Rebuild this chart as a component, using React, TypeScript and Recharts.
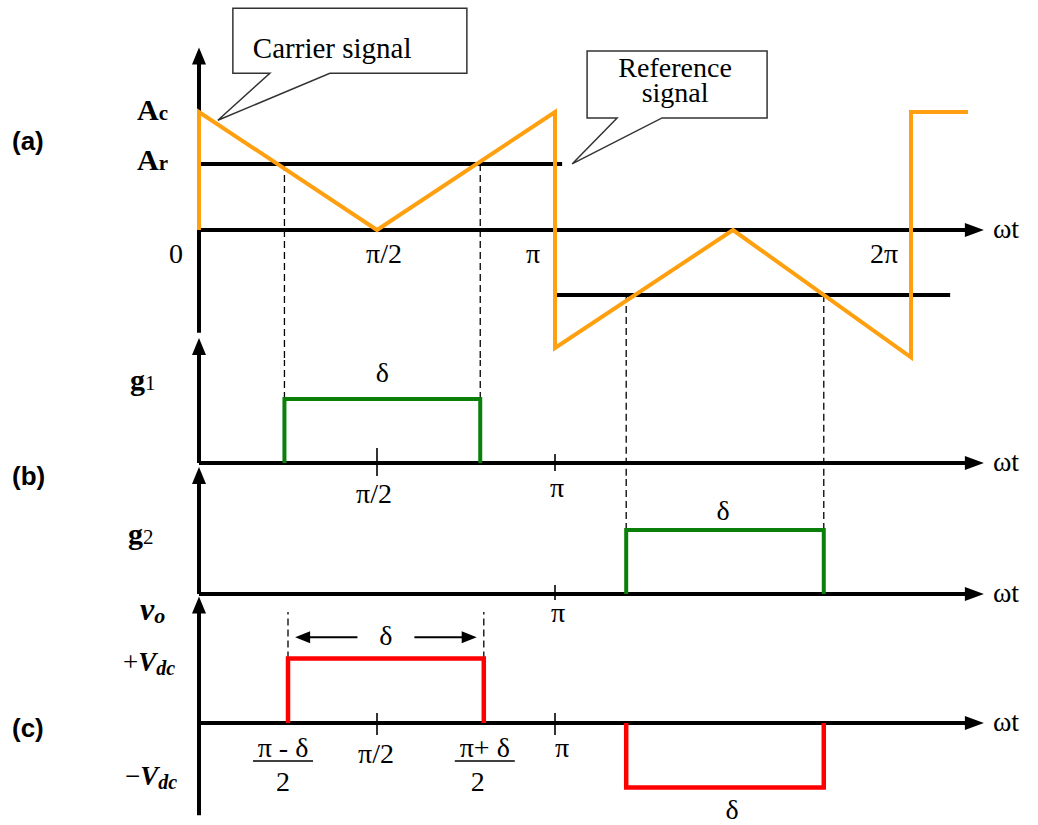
import React from "react";
import { LineChart, Line, XAxis, YAxis, ReferenceLine, ReferenceDot } from "recharts";

const W = 1038;
const H = 825;
const SERIF = "'Liberation Serif', 'Times New Roman', serif";
const SANS = "'Liberation Sans', Arial, sans-serif";

// x values are ωt in units of π
const carrierT = [0, 0, 0.5, 1, 1, 1.5, 2, 2, 2.16];
const carrierV = [0, 1, 0, 1, -1, 0, -1.08, 1, 1];
const refPosT = [0, 1.02];
const refPosV = [0.56, 0.56];
const refNegT = [1.0, 2.11];
const refNegV = [-0.55, -0.55];

const g1T = [0.24, 0.24, 0.79, 0.79];
const g1V = [0, 1, 1, 0];
const g2T = [1.2, 1.2, 1.755, 1.755];
const g2V = [0, 1, 1, 0];

const voPosT = [0.25, 0.25, 0.8, 0.8];
const voPosV = [0, 1, 1, 0];
const voNegT = [1.2, 1.2, 1.755, 1.755];
const voNegV = [0, -1, -1, 0];

const ticksA = [0, 0.5, 1, 2];
const tickLabelsA = ["0", "π/2", "π", "2π"];

const zip = (t: number[], v: number[]) => t.map((x, i) => ({ t: x, v: v[i] }));

// layout of each strip: pixel row of zero, pixels per unit, y-domain
const PANEL_A = { base: 230, unit: 118, lo: -1.1, hi: 1.55 };
const PANEL_G1 = { base: 463, unit: 64, lo: -0.2, hi: 1.61 };
const PANEL_G2 = { base: 594, unit: 64, lo: -0.3, hi: 1.85 };
const PANEL_C = { base: 723, unit: 64.5, lo: -1.5, hi: 1.72 };
const X_MAX = 2.25;
const AXIS_END = 2.157;

type PanelProps = { base: number; unit: number; lo: number; hi: number; children?: React.ReactNode };

function Panel({ base, unit, lo, hi, children }: PanelProps) {
  const top = base - hi * unit;
  const bottom = H - (base - lo * unit);
  return (
    <div style={{ position: "absolute", left: 0, top: 0 }}>
      <LineChart width={W} height={H} margin={{ top, bottom, left: 199, right: 38 }}>
        <XAxis type="number" dataKey="t" domain={[0, X_MAX]} hide />
        <YAxis type="number" domain={[lo, hi]} hide />
        {children}
      </LineChart>
    </div>
  );
}

type TxtOpts = {
  dx?: number;
  dy?: number;
  anchor?: "start" | "middle" | "end";
  size?: number;
  weight?: string | number;
  italic?: boolean;
  family?: string;
};

function txt(key: string, x: number, y: number, content: React.ReactNode, o: TxtOpts = {}) {
  const shape = (p: any) => (
    <text
      x={p.cx + (o.dx ?? 0)}
      y={p.cy + (o.dy ?? 0)}
      textAnchor={o.anchor ?? "middle"}
      fontSize={o.size ?? 28}
      fontFamily={o.family ?? SERIF}
      fontWeight={o.weight ?? "normal"}
      fontStyle={o.italic ? "italic" : "normal"}
      fill="#000"
    >
      {content}
    </text>
  );
  return <ReferenceDot key={key} x={x} y={y} r={1} ifOverflow="visible" shape={shape} />;
}

const arrowRight = (p: any) => (
  <polygon points={`${p.cx - 2},${p.cy - 7} ${p.cx + 17},${p.cy} ${p.cx - 2},${p.cy + 7}`} fill="#000" />
);
const arrowUp = (p: any) => (
  <polygon points={`${p.cx - 7},${p.cy + 2} ${p.cx},${p.cy - 15} ${p.cx + 7},${p.cy + 2}`} fill="#000" />
);
const smallLeft = (p: any) => (
  <polygon points={`${p.cx},${p.cy} ${p.cx + 15},${p.cy - 6} ${p.cx + 15},${p.cy + 6}`} fill="#000" />
);
const smallRight = (p: any) => (
  <polygon points={`${p.cx},${p.cy} ${p.cx - 15},${p.cy - 6} ${p.cx - 15},${p.cy + 6}`} fill="#000" />
);

function axes(prefix: string, yLo: number, yHi: number) {
  return [
    <ReferenceLine
      key={prefix + "h"}
      segment={[{ x: 0, y: 0 }, { x: AXIS_END, y: 0 }]}
      stroke="#000"
      strokeWidth={4}
      ifOverflow="visible"
    />,
    <ReferenceDot key={prefix + "ha"} x={AXIS_END} y={0} r={1} ifOverflow="visible" shape={arrowRight} />,
    <ReferenceLine
      key={prefix + "v"}
      segment={[{ x: 0, y: yLo }, { x: 0, y: yHi }]}
      stroke="#000"
      strokeWidth={4}
      ifOverflow="visible"
    />,
    <ReferenceDot key={prefix + "va"} x={0} y={yHi} r={1} ifOverflow="visible" shape={arrowUp} />,
    txt(prefix + "wt", AXIS_END, 0, "ωt", { dx: 26, dy: 8, anchor: "start" }),
  ];
}

function guide(key: string, x: number, y1: number, y2: number) {
  return (
    <ReferenceLine
      key={key}
      segment={[{ x, y: y1 }, { x, y: y2 }]}
      stroke="#000"
      strokeWidth={1.3}
      strokeDasharray="7 4"
      ifOverflow="visible"
    />
  );
}

function tick(key: string, x: number, up: number, down: number) {
  const shape = (p: any) => (
    <line x1={p.cx} x2={p.cx} y1={p.cy - up} y2={p.cy + down} stroke="#000" strokeWidth={1.6} />
  );
  return <ReferenceDot key={key} x={x} y={0} r={1} ifOverflow="visible" shape={shape} />;
}

function frac(key: string, x: number, num: string, dxNum: number, dxDen: number) {
  const shape = (p: any) => (
    <g fontFamily={SERIF} fontSize={28} fill="#000" textAnchor="middle">
      <text x={p.cx + dxNum} y={p.cy + 34}>{num}</text>
      <line x1={p.cx + dxNum - 30} x2={p.cx + dxNum + 30} y1={p.cy + 38} y2={p.cy + 38} stroke="#000" strokeWidth={1.6} />
      <text x={p.cx + dxDen} y={p.cy + 68}>2</text>
    </g>
  );
  return <ReferenceDot key={key} x={x} y={0} r={1} ifOverflow="visible" shape={shape} />;
}

const carrierCallout = (p: any) => (
  <g>
    <path
      d={`M${p.cx + 15},${p.cy - 112} H${p.cx + 249} V${p.cy - 47} H${p.cx + 112} L${p.cx},${p.cy} L${p.cx + 52},${p.cy - 47} H${p.cx + 15} Z`}
      fill="#fff"
      stroke="#333"
      strokeWidth={1.5}
    />
    <text x={p.cx + 35} y={p.cy - 62} fontFamily={SERIF} fontSize={29} fill="#000">
      Carrier signal
    </text>
  </g>
);

const referenceCallout = (p: any) => (
  <g>
    <path
      d={`M${p.cx + 15},${p.cy - 113} H${p.cx + 195} V${p.cy - 46} H${p.cx + 90} L${p.cx},${p.cy} L${p.cx + 45},${p.cy - 46} H${p.cx + 15} Z`}
      fill="#fff"
      stroke="#333"
      strokeWidth={1.5}
    />
    <text x={p.cx + 103} y={p.cy - 87} fontFamily={SERIF} fontSize={28} fill="#000" textAnchor="middle">
      Reference
    </text>
    <text x={p.cx + 103} y={p.cy - 62} fontFamily={SERIF} fontSize={28} fill="#000" textAnchor="middle">
      signal
    </text>
  </g>
);

const ORANGE = "#FFA010";
const GREEN = "#0A800A";
const RED = "#FF0000";

const g1Edges = [g1T[0], g1T[2]];
const g2Edges = [g2T[0], g2T[2]];
const voEdges = [voPosT[0], voPosT[2]];
const deltaLevel = 1.33;
const voMid = (voPosT[0] + voPosT[2]) / 2;

export default function App() {
  const tickDx = [-23, 7, -22, -27];
  return (
    <div style={{ position: "absolute", left: 0, top: 0, width: W, height: H, background: "#fff", overflow: "hidden" }}>
      {/* (a) carrier vs reference */}
      <Panel {...PANEL_A}>
        {g1Edges.map((t, i) => guide("ga" + i, t, refPosV[0], PANEL_A.lo))}
        {g2Edges.map((t, i) => guide("gb" + i, t, refNegV[0], PANEL_A.lo))}
        {axes("a", -0.87, 1.42)}
        <Line data={zip(refPosT, refPosV)} dataKey="v" stroke="#000" strokeWidth={4} dot={false} isAnimationActive={false} type="linear" />
        <Line data={zip(refNegT, refNegV)} dataKey="v" stroke="#000" strokeWidth={4} dot={false} isAnimationActive={false} type="linear" />
        <Line data={zip(carrierT, carrierV)} dataKey="v" stroke={ORANGE} strokeWidth={4} dot={false} isAnimationActive={false} type="linear" />
        {ticksA.map((t, i) => txt("ta" + i, t, 0, tickLabelsA[i], { dx: tickDx[i], dy: 33 }))}
        {txt("lblA", 0, 0, "(a)", { dx: -187, dy: -80, anchor: "start", family: SANS, weight: "bold", size: 26 })}
        {txt("Ac", 0, 1, <><tspan>A</tspan><tspan fontSize={21}>c</tspan></>, { dx: -62, dy: 8, anchor: "start", weight: "bold", size: 30 })}
        {txt("Ar", 0, refPosV[0], <><tspan>A</tspan><tspan fontSize={21}>r</tspan></>, { dx: -62, dy: 6, anchor: "start", weight: "bold", size: 30 })}
        <ReferenceDot x={0.053} y={0.93} r={1} ifOverflow="visible" shape={carrierCallout} />
        <ReferenceDot x={1.048} y={0.56} r={1} ifOverflow="visible" shape={referenceCallout} />
      </Panel>

      {/* (b) gate signal g1 */}
      <Panel {...PANEL_G1}>
        {g1Edges.map((t, i) => guide("g1a" + i, t, 1, PANEL_G1.hi))}
        {g2Edges.map((t, i) => guide("g1b" + i, t, PANEL_G1.lo, PANEL_G1.hi))}
        {axes("b1", 0, 1.72)}
        {tick("b1t0", 0.5, 15, 13)}
        {tick("b1t1", 1, 9, 8)}
        <Line data={zip(g1T, g1V)} dataKey="v" stroke={GREEN} strokeWidth={4} dot={false} isAnimationActive={false} type="linear" />
        {txt("d1", (g1T[0] + g1T[2]) / 2, 1, "δ", { dy: -17 })}
        {txt("b1p2", 0.5, 0, "π/2", { dx: -3, dy: 40 })}
        {txt("b1p", 1, 0, "π", { dx: 2, dy: 34 })}
        {txt("g1", 0, 1, <><tspan>g</tspan><tspan fontSize={21} fontWeight="normal">1</tspan></>, { dx: -69, dy: -9, anchor: "start", weight: "bold", size: 30 })}
        {txt("lblB", 0, 0, "(b)", { dx: -187, dy: 22, anchor: "start", family: SANS, weight: "bold", size: 26 })}
      </Panel>

      {/* (b) gate signal g2 */}
      <Panel {...PANEL_G2}>
        {g2Edges.map((t, i) => guide("g2a" + i, t, 1, PANEL_G2.hi))}
        {axes("b2", 0, 1.75)}
        {tick("b2t1", 1, 9, 6)}
        <Line data={zip(g2T, g2V)} dataKey="v" stroke={GREEN} strokeWidth={4} dot={false} isAnimationActive={false} type="linear" />
        {txt("d2", (g2T[0] + g2T[2]) / 2, 1, "δ", { dx: -2, dy: -10 })}
        {txt("b2p", 1, 0, "π", { dx: 3, dy: 28 })}
        {txt("g2", 0, 1, <><tspan>g</tspan><tspan fontSize={21} fontWeight="normal">2</tspan></>, { dx: -71, dy: 14, anchor: "start", weight: "bold", size: 30 })}
      </Panel>

      {/* (c) output voltage */}
      <Panel {...PANEL_C}>
        {voEdges.map((t, i) => guide("vc" + i, t, 1, PANEL_C.hi))}
        {axes("c", -1.43, 1.73)}
        {tick("ct0", 0.5, 10, 12)}
        {tick("ct1", 1, 10, 12)}
        <Line data={zip(voPosT, voPosV)} dataKey="v" stroke={RED} strokeWidth={4.5} dot={false} isAnimationActive={false} type="linear" />
        <Line data={zip(voNegT, voNegV)} dataKey="v" stroke={RED} strokeWidth={4.5} dot={false} isAnimationActive={false} type="linear" />
        <ReferenceLine segment={[{ x: voMid - 0.08, y: deltaLevel }, { x: voPosT[0] + 0.03, y: deltaLevel }]} stroke="#000" strokeWidth={2} ifOverflow="visible" />
        <ReferenceLine segment={[{ x: voMid + 0.08, y: deltaLevel }, { x: voPosT[2] - 0.03, y: deltaLevel }]} stroke="#000" strokeWidth={2} ifOverflow="visible" />
        <ReferenceDot x={voPosT[0] + 0.02} y={deltaLevel} r={1} ifOverflow="visible" shape={smallLeft} />
        <ReferenceDot x={voPosT[2] - 0.02} y={deltaLevel} r={1} ifOverflow="visible" shape={smallRight} />
        {txt("dc1", voMid, deltaLevel, "δ", { dy: 8 })}
        {txt("dc2", (voNegT[0] + voNegT[2]) / 2, -1, "δ", { dx: 7, dy: 31 })}
        {frac("fm", voPosT[0], "π - δ", -5, -5)}
        {frac("fp", voPosT[2], "π+ δ", 1, -6)}
        {txt("cp2", 0.5, 0, "π/2", { dx: -1, dy: 40 })}
        {txt("cp", 1, 0, "π", { dx: 7, dy: 34 })}
        {txt("vo", 0, 0, <><tspan>v</tspan><tspan fontSize={22} dy={3}>o</tspan></>, { dx: -59, dy: -103, anchor: "start", weight: "bold", italic: true, size: 32 })}
        {txt("pv", 0, 1, <><tspan fontWeight="normal" fontStyle="normal">+</tspan><tspan>V</tspan><tspan fontSize={20} dy={4}>dc</tspan></>, { dx: -76, dy: 12, anchor: "start", weight: "bold", italic: true, size: 27 })}
        {txt("nv", 0, -1, <><tspan fontWeight="normal" fontStyle="normal">−</tspan><tspan>V</tspan><tspan fontSize={20} dy={4}>dc</tspan></>, { dx: -74, dy: -3, anchor: "start", weight: "bold", italic: true, size: 27 })}
        {txt("lblC", 0, 0, "(c)", { dx: -187, dy: 14, anchor: "start", family: SANS, weight: "bold", size: 26 })}
      </Panel>
    </div>
  );
}
